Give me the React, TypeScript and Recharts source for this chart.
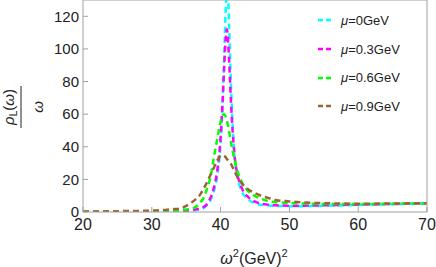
import { LineChart, Line, XAxis, YAxis, Legend, Label } from 'recharts';

// omega^2 in GeV^2
const omega2 = [
  20, 25, 30, 32, 33, 34, 35, 36, 37, 37.5, 38, 38.5, 39, 39.5, 40, 40.25, 40.5, 40.75, 40.9, 41,
  41.25, 41.5, 42, 42.5, 43, 44, 45, 46, 47, 48, 50, 52, 55, 60, 65, 70,
];

// rho_L(omega)/omega for each chemical potential
const mu0 = [
  0.03, 0.06, 0.12, 0.18, 0.25, 0.4, 0.6, 1, 1.7, 2.4, 4, 7, 12.5, 22, 42, 62, 92, 125, 137, 137,
  113, 79, 36, 20.5, 13.5, 7.8, 5.3, 4.4, 4, 3.8, 3.6, 3.6, 3.8, 4.3, 4.8, 5.3,
];
const mu03 = [
  0.05, 0.1, 0.2, 0.3, 0.4, 0.6, 0.9, 1.3, 2.2, 3, 4.8, 8.5, 14.5, 25, 46, 64, 87, 107, 112, 110,
  92, 68, 36, 22, 15.5, 9.2, 6.3, 5, 4.4, 4.1, 3.9, 3.9, 4.1, 4.5, 4.9, 5.3,
];
const mu06 = [
  0.1, 0.2, 0.35, 0.5, 0.7, 1, 1.5, 2.2, 5.6, 8.5, 14, 21, 33, 44.5, 55.5, 59, 60, 58.3, 56, 54.4,
  49, 43, 32.5, 24.5, 19, 12.8, 9.8, 7.9, 6.6, 6, 5.6, 5.2, 4.9, 4.9, 5.1, 5.3,
];
const mu09 = [
  0.3, 0.5, 0.9, 1.3, 1.7, 2, 3.7, 6.5, 10.5, 14, 18, 22.5, 27, 31.5, 34.5, 35, 34.6, 33.5, 32.6, 32,
  30.8, 29.5, 25, 21, 18, 14, 11.5, 9.8, 8.5, 7.4, 6.5, 5.9, 5.4, 5.1, 5.2, 5.4,
];

const xTicks = [20, 30, 40, 50, 60, 70];
const xMinor = [22, 24, 26, 28, 32, 34, 36, 38, 42, 44, 46, 48, 52, 54, 56, 58, 62, 64, 66, 68];
const yTicks = [0, 20, 40, 60, 80, 100, 120];
const yMinor = [5, 10, 15, 25, 30, 35, 45, 50, 55, 65, 70, 75, 85, 90, 95, 105, 110, 115, 125];

const series = [
  { key: 'mu0', name: 'μ=0GeV', color: '#00ffff', values: mu0 },
  { key: 'mu03', name: 'μ=0.3GeV', color: '#ff00ff', values: mu03 },
  { key: 'mu06', name: 'μ=0.6GeV', color: '#00ff00', values: mu06 },
  { key: 'mu09', name: 'μ=0.9GeV', color: '#996633', values: mu09 },
];

const data = omega2.map((x, i) => {
  const row: Record<string, number> = { x };
  series.forEach((s) => {
    row[s.key] = s.values[i];
  });
  return row;
});

const frame = '#a0a0a0';
const dash = '6 4';

const renderLegend = () => (
  <div style={{ display: 'flex', flexDirection: 'column' }}>
    {series.map((s) => (
      <div key={s.key} style={{ height: 28.7, display: 'flex', alignItems: 'center' }}>
        <svg width={14} height={4}>
          <line x1={0} y1={2} x2={14} y2={2} stroke={s.color} strokeWidth={2.5} strokeDasharray="5 3" />
        </svg>
        <span style={{ marginLeft: 9, fontSize: 13, color: '#222' }}>
          <i>{s.name.charAt(0)}</i>
          {s.name.slice(1)}
        </span>
      </div>
    ))}
  </div>
);

const renderYLabel = () => (
  <g transform="translate(21,107) rotate(-90)">
    <text x={0} y={-7} textAnchor="middle" fontSize={15} fill="#222">
      <tspan fontStyle="italic">ρ</tspan>
      <tspan fontSize={10} dy={3}>L</tspan>
      <tspan dy={-3}>(</tspan>
      <tspan fontStyle="italic">ω</tspan>
      <tspan>)</tspan>
    </text>
    <line x1={-21} y1={0} x2={21} y2={0} stroke="#222" strokeWidth={1} />
    <text x={0} y={22} textAnchor="middle" fontSize={15} fontStyle="italic" fill="#222">
      ω
    </text>
  </g>
);

const renderXLabel = () => (
  <text x={254} y={264} textAnchor="middle" fontSize={16} fill="#222">
    <tspan fontStyle="italic">ω</tspan>
    <tspan fontSize={11} dy={-7}>2</tspan>
    <tspan dy={7}>(GeV)</tspan>
    <tspan fontSize={11} dy={-7}>2</tspan>
  </text>
);

export default function App() {
  return (
    <div style={{ position: 'absolute', left: 0, top: 0, fontFamily: '"Liberation Sans", Arial, sans-serif' }}>
      <LineChart width={436} height={267} data={data} margin={{ top: -2, right: 7, bottom: 53, left: 81 }}>
        <XAxis
          xAxisId="b"
          type="number"
          dataKey="x"
          domain={[20, 70]}
          ticks={xTicks}
          interval={0}
          allowDataOverflow
          height={1}
          stroke={frame}
          tickSize={-5}
          tickMargin={12}
          tick={{ fill: '#222', fontSize: 16 }}
        >
          <Label content={renderXLabel} />
        </XAxis>
        <XAxis xAxisId="bm" type="number" domain={[20, 70]} ticks={xMinor} interval={0} height={1}
          axisLine={false} tick={false} tickSize={-3.5} stroke={frame} />
        <XAxis xAxisId="t" orientation="top" type="number" domain={[20, 70]} ticks={xTicks} interval={0}
          height={1} stroke={frame} tick={false} tickSize={-5} />
        <XAxis xAxisId="tm" orientation="top" type="number" domain={[20, 70]} ticks={xMinor} interval={0}
          height={1} axisLine={false} tick={false} tickSize={-3.5} stroke={frame} />
        <YAxis
          yAxisId="l"
          type="number"
          domain={[0, 130]}
          ticks={yTicks}
          interval={0}
          allowDataOverflow
          width={1}
          stroke={frame}
          tickSize={-5}
          tickMargin={9}
          tick={{ fill: '#222', fontSize: 15 }}
        >
          <Label content={renderYLabel} />
        </YAxis>
        <YAxis yAxisId="lm" type="number" domain={[0, 130]} ticks={yMinor} interval={0} width={1}
          axisLine={false} tick={false} tickSize={-3.5} stroke={frame} />
        <YAxis yAxisId="r" orientation="right" type="number" domain={[0, 130]} ticks={yTicks} interval={0}
          width={1} stroke={frame} tick={false} tickSize={-5} />
        <YAxis yAxisId="rm" orientation="right" type="number" domain={[0, 130]} ticks={yMinor} interval={0}
          width={1} axisLine={false} tick={false} tickSize={-3.5} stroke={frame} />
        {series.map((s) => (
          <Line
            key={s.key}
            xAxisId="b"
            yAxisId="l"
            type="monotone"
            dataKey={s.key}
            name={s.name}
            stroke={s.color}
            strokeWidth={2.5}
            strokeDasharray={dash}
            dot={false}
            isAnimationActive={false}
          />
        ))}
        <Legend
          layout="vertical"
          align="center"
          verticalAlign="middle"
          content={renderLegend}
          wrapperStyle={{ top: 6, left: 318, width: 118 }}
        />
      </LineChart>
    </div>
  );
}
